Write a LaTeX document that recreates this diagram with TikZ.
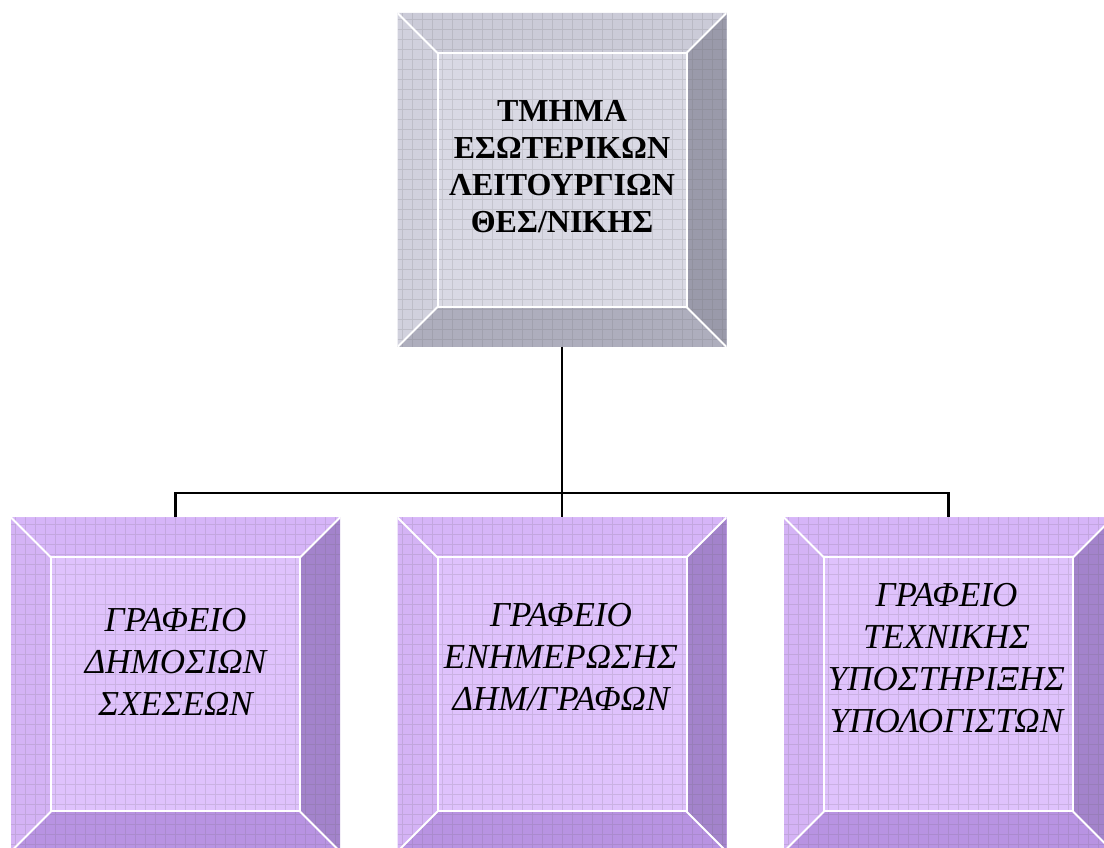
\documentclass[tikz,border=0pt]{standalone}
\usepackage{fontspec}
\setmainfont{Liberation Serif}
\usetikzlibrary{calc}

\definecolor{grayface}{HTML}{D9D9E4}
\definecolor{graytop}{HTML}{CBCBD8}
\definecolor{grayleft}{HTML}{D1D1DD}
\definecolor{grayright}{HTML}{9A9AAA}
\definecolor{graybot}{HTML}{AEAEBD}
\definecolor{lilface}{HTML}{DFC2FC}
\definecolor{liltop}{HTML}{D6B5F8}
\definecolor{lilleft}{HTML}{D4B3F5}
\definecolor{lilright}{HTML}{A383CB}
\definecolor{lilbot}{HTML}{B893E2}

\newcommand{\bevelpic}[4]{%
  \coordinate (sw) at (path picture bounding box.south west);
  \coordinate (ne) at (path picture bounding box.north east);
  \coordinate (nw) at (sw |- ne);
  \coordinate (se) at (ne |- sw);
  \coordinate (isw) at ([shift={(40,40)}]sw);
  \coordinate (ine) at ([shift={(-40,-40)}]ne);
  \coordinate (inw) at (isw |- ine);
  \coordinate (ise) at (ine |- isw);
  \fill[#1] (nw) -- (ne) -- (ine) -- (inw) -- cycle;
  \fill[#2] (nw) -- (inw) -- (isw) -- (sw) -- cycle;
  \fill[#3] (ne) -- (se) -- (ise) -- (ine) -- cycle;
  \fill[#4] (sw) -- (isw) -- (ise) -- (se) -- cycle;
  \draw[black!60,opacity=0.17,line width=1pt,step=10pt] (sw) grid (ne);
  \draw[white,line width=2pt] (isw) rectangle (ine);
  \draw[white,line width=2pt] (sw) -- (isw) (se) -- (ise) (ne) -- (ine) (nw) -- (inw);
}

\tikzset{
  boxshape/.style={rectangle,minimum width=329,minimum height=334,inner sep=0,outer sep=0},
  grayset/.style={boxshape,fill=grayface,path picture={\bevelpic{graytop}{grayleft}{grayright}{graybot}}},
  lilset/.style={boxshape,fill=lilface,path picture={\bevelpic{liltop}{lilleft}{lilright}{lilbot}}},
  toptext/.style={font=\bfseries\fontsize{32}{37}\selectfont,align=center},
  subtext/.style={font=\itshape\fontsize{35}{42}\selectfont,align=center},
  link/.style={line width=2.5pt,black}
}

\begin{document}
\begin{tikzpicture}[x=1pt,y=1pt]
\useasboundingbox (0,0) rectangle (1104,848);
\fill[white] (0,0) rectangle (1104,848);
\node[grayset] (dept) at (562,668) {};
\node[lilset] (pr) at (175.5,163.5) {};
\node[lilset] (press) at (562,163.5) {};
\node[lilset] (tech) at (948.5,163.5) {};
\coordinate (bus) at (562,355);
\draw[link] (dept.south) -- (bus);
\draw[link] (pr.north) |- (bus) -| (tech.north);
\draw[link] (bus) -- (press.north);
\node[toptext] (depttxt) at ([yshift=13]dept.center) {ΤΜΗΜΑ\\ΕΣΩΤΕΡΙΚΩΝ\\ΛΕΙΤΟΥΡΓΙΩΝ\\ΘΕΣ/ΝΙΚΗΣ};
\node[subtext] (prtxt) at ([yshift=23]pr.center) {ΓΡΑΦΕΙΟ\\ΔΗΜΟΣΙΩΝ\\ΣΧΕΣΕΩΝ};
\node[subtext] (presstxt) at ([xshift=-1,yshift=27]press.center) {ΓΡΑΦΕΙΟ\\ΕΝΗΜΕΡΩΣΗΣ\\ΔΗΜ/ΓΡΑΦΩΝ};
\node[subtext] (techtxt) at ([xshift=-2,yshift=26]tech.center) {ΓΡΑΦΕΙΟ\\ΤΕΧΝΙΚΗΣ\\ΥΠΟΣΤΗΡΙΞΗΣ\\ΥΠΟΛΟΓΙΣΤΩΝ};
\end{tikzpicture}
\end{document}
